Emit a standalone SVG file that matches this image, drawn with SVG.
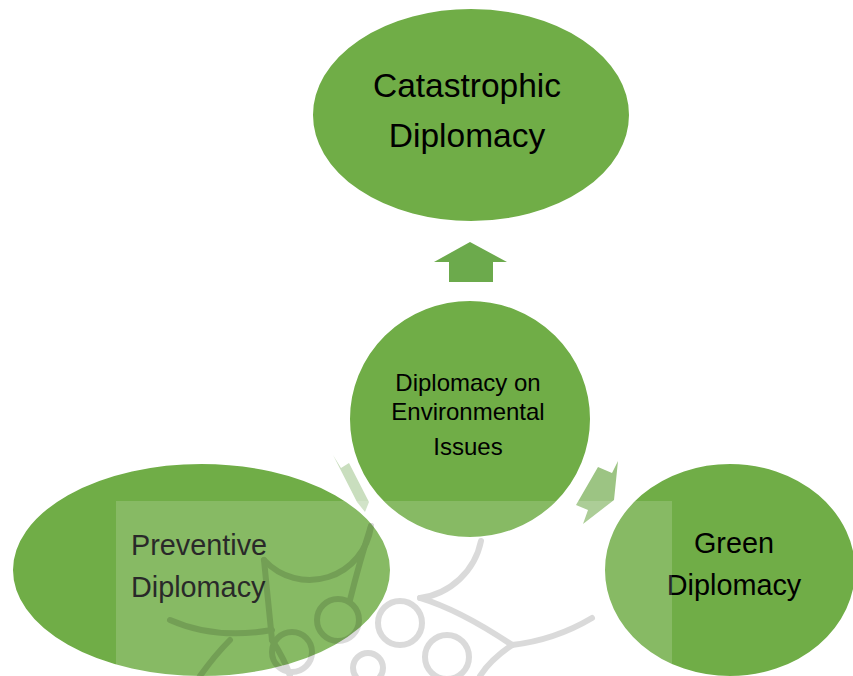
<svg xmlns="http://www.w3.org/2000/svg" width="853" height="676" viewBox="0 0 853 676">
  <defs>
    <style>
      .node { fill: #70AD47; stroke: #FFFFFF; stroke-width: 2; }
      .lbl { font-family: "Liberation Sans", Arial, sans-serif; fill: #000000; }
      .big { font-size: 33.5px; text-anchor: middle; }
      .mid { font-size: 24px; text-anchor: middle; }
      .side { font-size: 28.8px; }
      .web { fill: none; stroke: #000000; stroke-width: 6; stroke-linecap: round; }
    </style>
    <clipPath id="wmClip">
      <rect x="116" y="501" width="556" height="175"/>
    </clipPath>
  </defs>
  <rect x="0" y="0" width="853" height="676" fill="#FFFFFF"/>

  <g id="connectors">
    <polygon id="arrow-top" points="470,242 507,262 493,262 493,282 449,282 449,262 434,262" fill="#6CAA4C"/>
    <polygon id="arrow-left" points="333,455 341,468 349,463 369,502 365,512 357,502" fill="#C9DEBE"/>
    <polygon id="arrow-right" points="598,467 612,473 618,461 614,500 583,524 588,510 576,505" fill="#9CC483"/>
  </g>

  <g id="node-catastrophic">
    <ellipse class="node" cx="471" cy="115" rx="159" ry="107"/>
    <text class="lbl big" x="467" y="97">Catastrophic</text>
    <text class="lbl big" x="467" y="147">Diplomacy</text>
  </g>

  <g id="node-center">
    <ellipse class="node" cx="470" cy="419" rx="121" ry="119"/>
    <text class="lbl mid" x="468" y="391">Diplomacy on</text>
    <text class="lbl mid" x="468" y="420">Environmental</text>
    <text class="lbl mid" x="468" y="455">Issues</text>
  </g>

  <g id="node-preventive">
    <ellipse class="node" cx="201.5" cy="570" rx="189.5" ry="107"/>
    <text class="lbl side" x="131" y="555">Preventive</text>
    <text class="lbl side" x="131" y="597">Diplomacy</text>
  </g>

  <g id="node-green">
    <ellipse class="node" cx="730" cy="570" rx="126" ry="107"/>
    <text class="lbl side" x="734" y="553" text-anchor="middle">Green</text>
    <text class="lbl side" x="734" y="595" text-anchor="middle">Diplomacy</text>
  </g>

  <g id="watermark">
    <rect x="116" y="501" width="556" height="175" fill="#FFFFFF" fill-opacity="0.16"/>
    <g clip-path="url(#wmClip)" opacity="0.14">
      <path class="web" d="M 371 526 A 62 62 0 0 1 264 560"/>
      <path class="web" d="M 264 560 Q 268 600 272 640"/>
      <path class="web" d="M 170 620 Q 215 640 272 630"/>
      <path class="web" d="M 371 526 Q 360 560 350 600"/>
      <path class="web" d="M 481 541 A 72 72 0 0 1 420 598"/>
      <path class="web" d="M 592 618 Q 555 640 512 645"/>
      <path class="web" d="M 420 598 Q 460 610 512 645"/>
      <path class="web" d="M 272 640 Q 285 660 290 676"/>
      <path class="web" d="M 512 645 Q 490 660 480 676"/>
      <path class="web" d="M 200 676 Q 215 655 230 640"/>
      <circle class="web" cx="338" cy="620" r="21"/>
      <circle class="web" cx="400" cy="623" r="22"/>
      <circle class="web" cx="447" cy="657" r="22"/>
      <circle class="web" cx="292" cy="652" r="20"/>
      <circle class="web" cx="368" cy="668" r="15"/>
    </g>
  </g>
</svg>
